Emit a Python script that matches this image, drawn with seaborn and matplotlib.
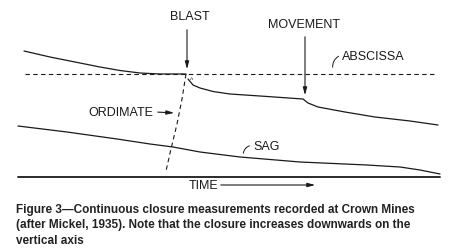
import pandas as pd
import seaborn as sns
import matplotlib.pyplot as plt

# schematic closure record (x = time, y = closure, down = more)
pre_blast_x = [24, 50, 80, 100, 120, 140, 160, 186]
pre_blast_y = [52, 58, 64, 68, 71.5, 74, 75, 75]

post_blast_x = [188, 193, 200, 213, 230, 260, 303, 308, 318, 345, 375, 410, 438]
post_blast_y = [80, 86, 89, 92.5, 95, 97, 100, 104, 108, 113, 118, 122, 126]

sag_x = [18, 67, 117, 150, 173, 200, 240, 300, 367, 400, 420, 440]
sag_y = [127, 133, 140, 145, 148, 153, 158, 163, 166, 168, 171, 175]

ordinate_x = [186, 182, 177, 171, 166]
ordinate_y = [75, 100, 125, 150, 172]

abscissa_x = [25, 436]
abscissa_y = [75, 75]

base_x = [18, 440]
base_y = [178, 178]

caption = ["Figure 3\u2014Continuous closure measurements recorded at Crown Mines",
           "(after Mickel, 1935). Note that the closure increases downwards on the",
           "vertical axis"]

sns.set_style("white")
plt.rcParams['font.family'] = ['Liberation Sans', 'DejaVu Sans']

fig = plt.figure(figsize=(4.58, 2.53), dpi=100)
ax = fig.add_axes([0, 0, 1, 1])
ink = "#1a1a1a"

sns.lineplot(x=pre_blast_x, y=pre_blast_y, ax=ax, color=ink, lw=0.9, sort=False)
sns.lineplot(x=post_blast_x, y=post_blast_y, ax=ax, color=ink, lw=0.9, sort=False)
sns.lineplot(x=sag_x, y=sag_y, ax=ax, color=ink, lw=0.9, sort=False)
sns.lineplot(x=base_x, y=base_y, ax=ax, color=ink, lw=1.3, sort=False)
sns.lineplot(x=abscissa_x, y=abscissa_y, ax=ax, color=ink, lw=0.8,
             linestyle=(0, (4, 3)), sort=False)
sns.lineplot(x=ordinate_x, y=ordinate_y, ax=ax, color=ink, lw=0.8,
             linestyle=(0, (4, 3)), sort=False)

ax.set_xlim(0, 458)
ax.set_ylim(253, 0)
ax.axis("off")

arr = dict(arrowstyle="-|>,head_length=0.45,head_width=0.12", color=ink, lw=0.8)
lab = dict(fontsize=9, color=ink)

ax.annotate("", xy=(187, 73), xytext=(187, 28), arrowprops=arr)
ax.text(190, 17, "BLAST", ha="center", va="center", **lab)

ax.annotate("", xy=(305, 99), xytext=(305, 35), arrowprops=arr)
ax.text(304, 25, "MOVEMENT", ha="center", va="center", **lab)

ax.annotate("", xy=(177, 114), xytext=(155, 113), arrowprops=arr)
ax.text(88, 113, "ORDIMATE", ha="left", va="center", **lab)

ax.annotate("", xy=(318, 186), xytext=(218, 186), arrowprops=arr)
ax.text(189, 186, "TIME", ha="left", va="center", **lab)

ax.annotate("", xy=(333, 71), xytext=(341, 56),
            arrowprops=dict(arrowstyle="-", color=ink, lw=0.7,
                            connectionstyle="arc3,rad=0.4"))
ax.text(342, 57, "ABSCISSA", ha="left", va="center", **lab)

ax.annotate("", xy=(243, 157), xytext=(252, 146),
            arrowprops=dict(arrowstyle="-", color=ink, lw=0.7,
                            connectionstyle="arc3,rad=0.4"))
ax.text(253, 147, "SAG", ha="left", va="center", **lab)

ax.text(192, 80, "^", ha="center", va="center", fontsize=5, color=ink)

for i, line in enumerate(caption):
    ax.text(16, 210 + 15.5 * i, line, ha="left", va="center",
            fontsize=8.5, fontweight="bold", color="#222222")

fig.savefig("out.png", dpi=100)
